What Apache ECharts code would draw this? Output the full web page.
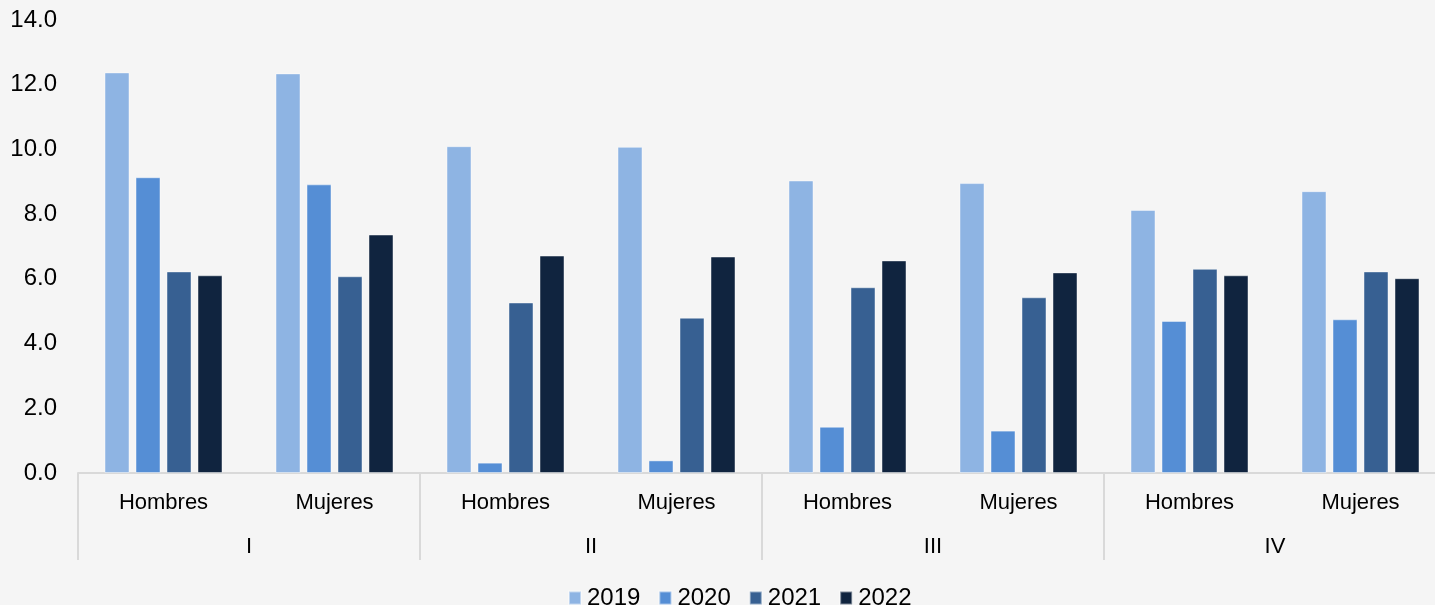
<!DOCTYPE html>
<html>
<head>
<meta charset="utf-8">
<script src="https://cdn.jsdelivr.net/npm/echarts@6/dist/echarts.min.js"></script>
<style>
html,body{margin:0;padding:0;background:#f5f5f5;}
#c{width:1435px;height:605px;}
</style>
</head>
<body>
<div id="c"></div>
<script>
const categories = ['Hombres','Mujeres','Hombres','Mujeres','Hombres','Mujeres','Hombres','Mujeres'];
const quarters = ['I','II','III','IV'];
const years = ['2019','2020','2021','2022'];
const s2019 = [12.38, 12.35, 10.10, 10.08, 9.04, 8.96, 8.13, 8.71];
const s2020 = [9.14, 8.92, 0.32, 0.39, 1.43, 1.31, 4.70, 4.75];
const s2021 = [6.23, 6.08, 5.27, 4.80, 5.74, 5.43, 6.31, 6.23];
const s2022 = [6.11, 7.37, 6.72, 6.69, 6.57, 6.20, 6.11, 6.02];
const colors = ['#8EB4E3','#558ED5','#376092','#10243F'];
const seriesData = [s2019, s2020, s2021, s2022];

const FONT = "'Liberation Sans Narrow', 'Arial Narrow', 'Liberation Sans', Arial, sans-serif";
const FONT2 = "'Liberation Sans', Arial, sans-serif";
const chart = echarts.init(document.getElementById('c'));
chart.setOption({
  backgroundColor: '#f5f5f5',
  animation: false,
  textStyle: {fontFamily: FONT2},
  legend: {
    data: years,
    left: 563, top: 581,
    itemWidth: 12, itemHeight: 13, itemGap: 18,
    icon: 'rect',
    textStyle: {fontSize: 24, color: '#000', fontFamily: FONT2, padding: [0,0,0,1]}
  },
  grid: {left: 78, top: 20, width: 1368, height: 453, containLabel: false, outerBoundsMode: 'none'},
  xAxis: [
    {
      type: 'category', data: categories, position: 'bottom',
      axisLine: {show: true, lineStyle: {color: '#d9d9d9', width: 2}},
      axisTick: {show: false},
      axisLabel: {color: '#000', fontSize: 22, margin: 19, fontFamily: FONT, interval: 0}
    },
    {
      type: 'category', data: quarters, position: 'bottom',
      axisLine: {show: false},
      axisTick: {show: true, length: 87, lineStyle: {color: '#d9d9d9', width: 2}},
      axisLabel: {color: '#000', fontSize: 22, margin: 63, fontFamily: FONT}
    }
  ],
  yAxis: {
    type: 'value', min: 0, max: 14, interval: 2,
    axisLine: {show: false}, axisTick: {show: false}, splitLine: {show: false},
    axisLabel: {color: '#000', fontSize: 24, margin: 21, fontFamily: FONT2,
      formatter: v => v.toFixed(1)}
  },
  series: years.map((y, i) => ({
    name: y, type: 'bar', xAxisIndex: 0, data: seriesData[i],
    barWidth: 25, barGap: '24%',
    itemStyle: {color: colors[i], borderColor: 'rgba(255,255,255,0.45)', borderWidth: 1}
  }))
});
</script>
</body>
</html>
